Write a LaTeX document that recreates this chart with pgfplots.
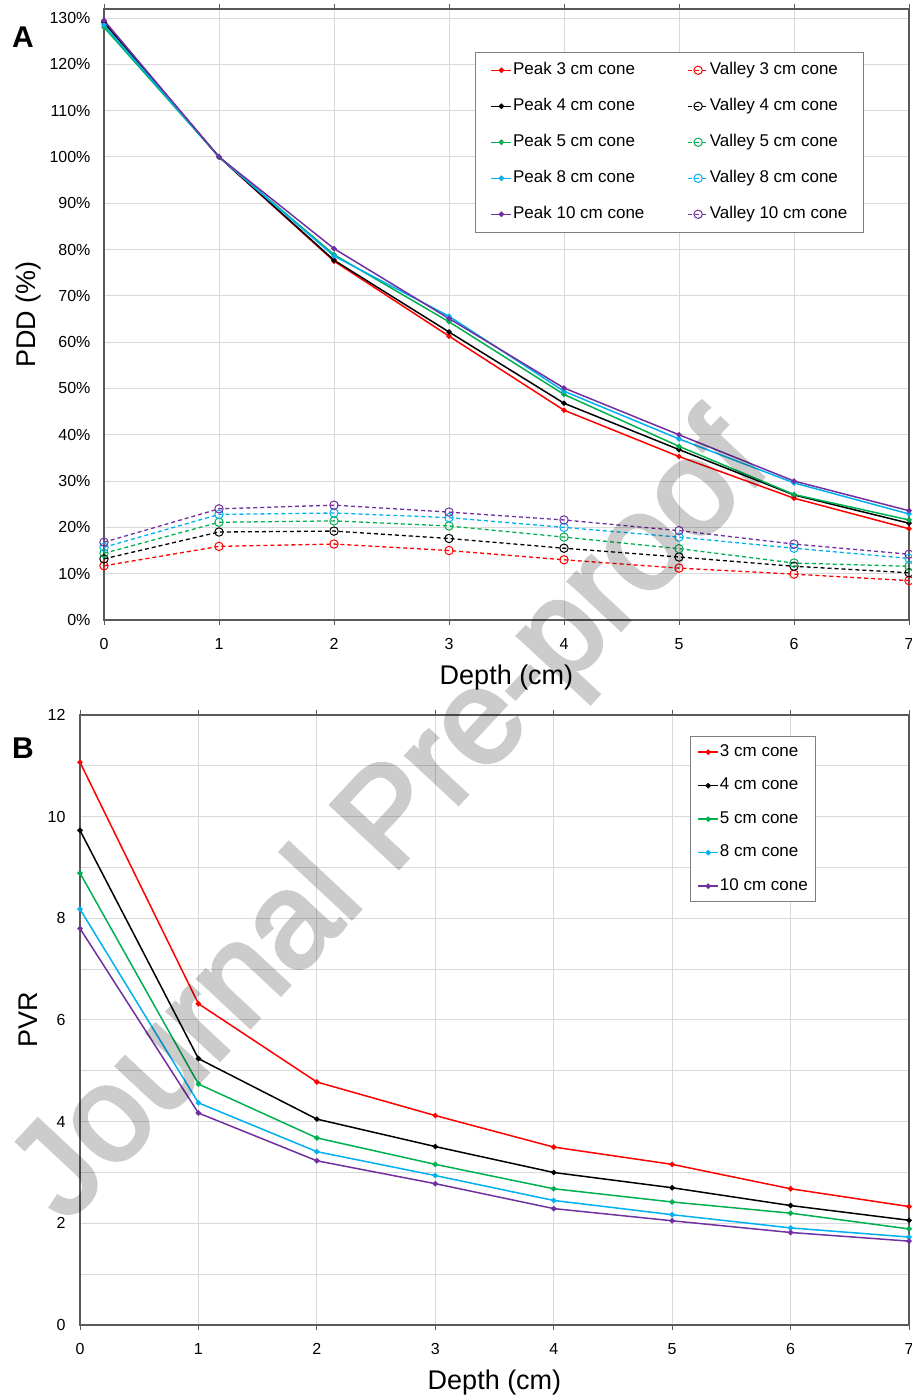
\documentclass[border=0pt]{standalone}
\usepackage{pgfplots}
\pgfplotsset{compat=1.18}
\usepackage{pgfplotstable}
\usepackage{fontspec}
\setmainfont{Liberation Sans}
\newfontfamily\wmfont[FakeBold=3]{Liberation Sans}

\definecolor{cRed}{HTML}{FF0000}
\definecolor{cBlack}{HTML}{000000}
\definecolor{cGreen}{HTML}{00B050}
\definecolor{cCyan}{HTML}{00B0F0}
\definecolor{cPurple}{HTML}{7030A0}
\definecolor{gridgray}{HTML}{D9D9D9}
\definecolor{axisgray}{HTML}{595959}
\definecolor{boxgray}{HTML}{7F7F7F}

% PDD (percent) -- peak and valley per cone
\pgfplotstableread{
x   p3    p4    p5    p8    p10   v3    v4    v5    v8    v10
0   129.2 129.0 128.0 128.5 129.5 11.7  13.2  14.4  15.7  16.8
1   100   100   100   100   100   15.9  19.0  21.1  22.8  24.0
2   77.5  77.7  78.9  78.6  80.2  16.4  19.2  21.4  23.1  24.8
3   61.3  62.2  64.4  65.6  65.1  15.0  17.6  20.3  22.1  23.3
4   45.3  46.8  48.7  49.4  50.1  13.0  15.5  17.9  20.0  21.6
5   35.3  36.8  37.5  39.1  40.0  11.2  13.6  15.4  17.9  19.3
6   26.3  27.0  27.1  29.6  30.0  9.9   11.6  12.3  15.5  16.4
7   19.7  20.9  21.6  22.9  23.6  8.5   10.2  11.6  13.3  14.2
}\pdd

% peak-to-valley ratio per cone
\pgfplotstableread{
x   c3    c4    c5    c8    c10
0   11.07 9.73  8.89  8.18  7.80
1   6.32  5.24  4.74  4.37  4.17
2   4.78  4.05  3.68  3.41  3.23
3   4.12  3.51  3.16  2.94  2.78
4   3.50  3.00  2.68  2.45  2.29
5   3.16  2.70  2.42  2.17  2.05
6   2.68  2.35  2.20  1.91  1.82
7   2.33  2.06  1.89  1.73  1.65
}\pvr

\pgfplotsset{
  panel/.style={
    scale only axis,
    xmin=0, xmax=7, xtick={0,...,7},
    axis line style={draw=axisgray, line width=1.2pt},
    major grid style={draw=gridgray, line width=1pt},
    minor grid style={draw=gridgray, line width=1pt},
    xmajorgrids, ymajorgrids,
    xtick align=outside,
    major tick length=5pt,
    xtick style={draw=axisgray, line width=1pt},
    ytick style={draw=none},
    tick label style={font=\fontsize{16}{19}\selectfont},
    xticklabel style={yshift=-10pt},
    label style={font=\fontsize{27}{32}\selectfont},
    /pgf/number format/assume math mode=true,
    clip=false,
    legend cell align=left,
    legend image code/.code={%
      \draw[#1, mark repeat=2, mark phase=2]
        plot coordinates {(0pt,0pt) (10pt,0pt) (20pt,0pt)};},
    legend style={
      draw=boxgray, line width=1pt,
      font=\fontsize{17}{20}\selectfont,
      nodes={inner sep=1pt, text height=12pt, text depth=3.5pt},
    },
  },
  peak/.style={solid, line width=1.5pt, color=#1, mark=*, mark size=1.9pt,
    mark options={solid, fill=#1}},
  valley/.style={line width=1.3pt, color=#1, dash pattern=on 4pt off 3pt,
    mark=o, mark size=4.2pt, mark options={solid, line width=1pt}},
}

\begin{document}
\begin{tikzpicture}
\useasboundingbox (0,0) rectangle (911pt,1396pt);

% ---------- A : PDD ----------
\begin{axis}[panel,
  at={(104pt,776pt)}, anchor=south west,
  width=805pt, height=611pt,
  ymin=0, ymax=131.95,
  ytick={0,10,...,130},
  yticklabel={\pgfmathprintnumber{\tick}\%},
  yticklabel style={xshift=-10pt},
  xlabel={Depth (cm)}, ylabel={PDD (\%)},
  xlabel style={at={(axis description cs:0.5,-0.094)}, anchor=center},
  ylabel style={at={(axis description cs:-0.0935,0.5)}, anchor=center},
  legend columns=2,
  legend style={at={(axis description cs:0.461,0.9296)}, anchor=north west,
    inner xsep=15pt, inner ysep=9pt, row sep=18.5pt,
    /tikz/every even column/.append style={column sep=42pt}},
]
\addplot[peak=cRed]    table[y=p3]  {\pdd};  \addlegendentry{Peak 3 cm cone}
\addplot[valley=cRed]  table[y=v3]  {\pdd};  \addlegendentry{Valley 3 cm cone}
\addplot[peak=cBlack]  table[y=p4]  {\pdd};  \addlegendentry{Peak 4 cm cone}
\addplot[valley=cBlack] table[y=v4] {\pdd};  \addlegendentry{Valley 4 cm cone}
\addplot[peak=cGreen]  table[y=p5]  {\pdd};  \addlegendentry{Peak 5 cm cone}
\addplot[valley=cGreen] table[y=v5] {\pdd};  \addlegendentry{Valley 5 cm cone}
\addplot[peak=cCyan]   table[y=p8]  {\pdd};  \addlegendentry{Peak 8 cm cone}
\addplot[valley=cCyan] table[y=v8]  {\pdd};  \addlegendentry{Valley 8 cm cone}
\addplot[peak=cPurple] table[y=p10] {\pdd};  \addlegendentry{Peak 10 cm cone}
\addplot[valley=cPurple] table[y=v10] {\pdd}; \addlegendentry{Valley 10 cm cone}
\node[font=\fontsize{30}{34}\selectfont\bfseries] at (axis description cs:-0.1006,0.954) {A};
\end{axis}

% ---------- B : PVR ----------
\begin{axis}[panel,
  at={(80pt,71pt)}, anchor=south west,
  width=829pt, height=610pt,
  ymin=0, ymax=12,
  ytick={0,2,...,12}, minor ytick={1,3,...,11}, yminorgrids,
  yticklabel style={xshift=-11pt},
  xlabel={Depth (cm)}, ylabel={PVR},
  xlabel style={at={(axis description cs:0.5,-0.094)}, anchor=center},
  ylabel style={at={(axis description cs:-0.062,0.5)}, anchor=center},
  legend style={at={(axis description cs:0.7358,0.9656)}, anchor=north west,
    inner xsep=7pt, inner ysep=7pt, row sep=16pt},
]
\addplot[peak=cRed]    table[y=c3]  {\pvr}; \addlegendentry{3 cm cone}
\addplot[peak=cBlack]  table[y=c4]  {\pvr}; \addlegendentry{4 cm cone}
\addplot[peak=cGreen]  table[y=c5]  {\pvr}; \addlegendentry{5 cm cone}
\addplot[peak=cCyan]   table[y=c8]  {\pvr}; \addlegendentry{8 cm cone}
\addplot[peak=cPurple] table[y=c10] {\pvr}; \addlegendentry{10 cm cone}
\node[font=\fontsize{30}{34}\selectfont\bfseries] at (axis description cs:-0.0688,0.946) {B};
\end{axis}

% watermark, composited as one group so the faked bold leaves no outline
\begin{scope}[transparency group, opacity=0.2]
\node[rotate=47, text=black,
  font=\fontsize{134}{144}\wmfont] at (394pt,574pt) {Journal Pre-proof};
\end{scope}
\end{tikzpicture}
\end{document}
